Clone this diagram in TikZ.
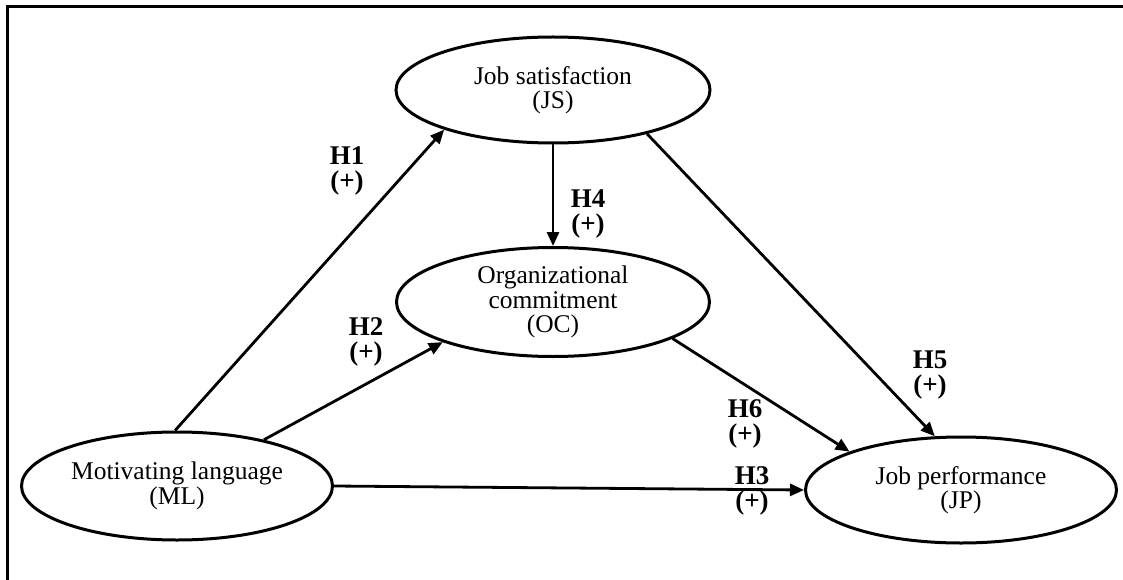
\documentclass[tikz,border=0pt]{standalone}
\usepackage{fontspec}
\setmainfont{Liberation Serif}
\usetikzlibrary{arrows.meta,shapes.geometric}
\begin{document}
\begin{tikzpicture}[x=1pt,y=-1pt,
  construct/.style={draw,ellipse,line width=3pt,inner sep=0pt,align=center,
    font=\fontsize{25.5}{24.5}\selectfont},
  hyp/.style={align=center,font=\fontsize{27}{25}\selectfont\bfseries},
  link/.style={line width=2.8pt,-{Triangle[length=14pt,width=12pt]}}]
\useasboundingbox (0,0) rectangle (1123,580);
\draw[line width=3pt] (7,580) -- (7,7) -- (1123,7);
\node[construct,minimum width=314pt,minimum height=106pt] (JS) at (553,90) {Job satisfaction\\(JS)};
\node[construct,minimum width=313pt,minimum height=109pt] (OC) at (553,302) {Organizational\\commitment\\(OC)};
\node[construct,minimum width=311pt,minimum height=108pt] (ML) at (177,486) {Motivating language\\(ML)};
\node[construct,minimum width=311pt,minimum height=106pt] (JP) at (961,490) {Job performance\\(JP)};
\draw[link] (ML.92) -- (JS.200);
\draw[link] (ML.28) -- (OC.200);
\draw[link] (ML.0) -- (JP.180);
\draw[link] (JS.270) -- (OC.90);
\draw[link] (JS.-25) -- (JP.116);
\draw[link] (OC.-17) -- (JP.161);
\node[hyp] (h1) at (347,171) {H1\\(+)};
\node[hyp] (h2) at (366,342) {H2\\(+)};
\node[hyp] (h3) at (752,491) {H3\\(+)};
\node[hyp] (h4) at (588,214) {H4\\(+)};
\node[hyp] (h5) at (930,375) {H5\\(+)};
\node[hyp] (h6) at (745,424) {H6\\(+)};
\end{tikzpicture}
\end{document}
